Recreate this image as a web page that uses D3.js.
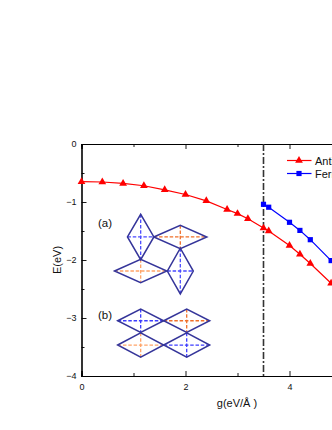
<!DOCTYPE html>
<html>
<head>
<meta charset="utf-8">
<script src="https://cdn.jsdelivr.net/npm/d3@7"></script>
<style>
  html, body { margin: 0; padding: 0; background: #fff; overflow: hidden; }
  svg { display: block; }
  text { font-family: "Liberation Sans", Arial, sans-serif; fill: #111; }
</style>
</head>
<body>
<div class="chart"></div>
<script>
// energy curves
var afmG = [0, 0.4, 0.8, 1.2, 1.6, 2, 2.4, 2.8, 3, 3.2, 3.5, 3.6, 4, 4.2, 4.4, 4.8];
var afmE = [-0.65, -0.655, -0.68, -0.72, -0.79, -0.87, -0.98, -1.13, -1.2, -1.29, -1.45, -1.5, -1.75, -1.9, -2.06, -2.4];
var fmG = [3.5, 3.6, 4, 4.2, 4.4, 4.8];
var fmE = [-1.04, -1.09, -1.35, -1.49, -1.65, -2.01];
var legendLabels = ["Antiferromagnetic", "Ferromagnetic"];
var xTicks = [0, 2, 4];
var xMinorTicks = [1, 3, 5];
var yTicks = [0, -1, -2, -3, -4];
var yMinorTicks = [-0.5, -1.5, -2.5, -3.5];
var transitionG = 3.5;

// rhombus insets, in chart units: centre, half width, half height, inner dash colour
var rhombG = [1.138, 1.9, 1.138, 1.9, 1.138, 2.023, 1.138, 2.023];
var rhombE = [-1.603, -1.603, -2.19, -2.19, -3.047, -3.047, -3.466, -3.466];
var rhombHalfG = [0.254, 0.51, 0.503, 0.25, 0.442, 0.442, 0.442, 0.442];
var rhombHalfE = [0.391, 0.202, 0.202, 0.394, 0.201, 0.201, 0.21, 0.21];
var rhombDash = ["#4a4aff", "#f0702a", "#ffa468", "#4a4aff", "#3c3cff", "#f0702a", "#ffa468", "#3c3cff"];

var svg_width = 332;
var svg_height = 430;

var svg = d3.select(".chart").append("svg")
  .attr("width", svg_width)
  .attr("height", svg_height);

var x = d3.scaleLinear().domain([0, 6]).range([81.5, 393.5]);
var y = d3.scaleLinear().domain([0, -4]).range([144, 376]);

// axes, ticks point inward
function tidy(g) {
  g.select(".domain").attr("stroke", "#000").attr("stroke-width", 1.1);
  g.selectAll(".tick line").attr("stroke", "#000").attr("stroke-width", 0.9);
  g.selectAll("text").style("font-size", "9px").style("font-family", '"Liberation Sans", Arial, sans-serif').attr("fill", "#111");
}

svg.append("g").attr("transform", "translate(0,376)")
  .call(d3.axisBottom(x).tickValues(xTicks).tickSize(-5).tickPadding(8).tickFormat(d3.format("d")))
  .call(tidy);
svg.append("g").attr("transform", "translate(0,376)")
  .call(d3.axisBottom(x).tickValues(xMinorTicks).tickSize(-3).tickFormat(""))
  .call(tidy);
svg.append("g").attr("transform", "translate(0,144)")
  .call(d3.axisTop(x).tickValues(xTicks).tickSize(-5).tickFormat(""))
  .call(tidy);
svg.append("g").attr("transform", "translate(0,144)")
  .call(d3.axisTop(x).tickValues(xMinorTicks).tickSize(-3).tickFormat(""))
  .call(tidy);
svg.append("g").attr("transform", "translate(81.5,0)")
  .call(d3.axisLeft(y).tickValues(yTicks).tickSize(-5).tickPadding(5).tickFormat(d3.format("d")))
  .call(tidy);
svg.append("g").attr("transform", "translate(81.5,0)")
  .call(d3.axisLeft(y).tickValues(yMinorTicks).tickSize(-3).tickFormat(""))
  .call(tidy);

svg.append("text").attr("x", 237).attr("y", 407)
  .attr("text-anchor", "middle").style("font-size", "11px").text("g(eV/Å )");
svg.append("text").attr("transform", "translate(61,260) rotate(-90)")
  .attr("text-anchor", "middle").style("font-size", "11px").text("E(eV)");

// vertical dash dot line
svg.append("line")
  .attr("x1", x(transitionG)).attr("x2", x(transitionG))
  .attr("y1", y(0)).attr("y2", y(-4))
  .attr("stroke", "#333").attr("stroke-width", 1.6)
  .attr("stroke-dasharray", "7,2,2,2");

// rhombus insets
var rhombi = d3.range(rhombG.length);

svg.selectAll(".dash-h").data(rhombi).enter().append("line")
  .attr("x1", function(i) { return x(rhombG[i] - rhombHalfG[i]); })
  .attr("x2", function(i) { return x(rhombG[i] + rhombHalfG[i]); })
  .attr("y1", function(i) { return y(rhombE[i]); })
  .attr("y2", function(i) { return y(rhombE[i]); })
  .attr("stroke", function(i) { return rhombDash[i]; })
  .attr("stroke-width", 1.3).attr("stroke-dasharray", "3.5,1.8");

svg.selectAll(".dash-v").data(rhombi).enter().append("line")
  .attr("x1", function(i) { return x(rhombG[i]); })
  .attr("x2", function(i) { return x(rhombG[i]); })
  .attr("y1", function(i) { return y(rhombE[i] + rhombHalfE[i]); })
  .attr("y2", function(i) { return y(rhombE[i] - rhombHalfE[i]); })
  .attr("stroke", function(i) { return rhombDash[i]; })
  .attr("stroke-width", 1.3).attr("stroke-dasharray", "3.5,1.8");

svg.selectAll(".rhomb").data(rhombi).enter().append("path")
  .attr("d", function(i) {
    return d3.line()([
      [x(rhombG[i] - rhombHalfG[i]), y(rhombE[i])],
      [x(rhombG[i]), y(rhombE[i] + rhombHalfE[i])],
      [x(rhombG[i] + rhombHalfG[i]), y(rhombE[i])],
      [x(rhombG[i]), y(rhombE[i] - rhombHalfE[i])]
    ]) + "Z";
  })
  .attr("fill", "none")
  .attr("stroke", "#35359a")
  .attr("stroke-width", 1.5);

svg.append("text").attr("x", 98).attr("y", 227).style("font-size", "11.5px").text("(a)");
svg.append("text").attr("x", 98).attr("y", 319).style("font-size", "11.5px").text("(b)");

// the two curves
function drawSeries(gs, es, color, symbol, size) {
  var pts = d3.zip(gs, es);
  svg.append("path")
    .attr("d", d3.line().x(function(d) { return x(d[0]); }).y(function(d) { return y(d[1]); })(pts))
    .attr("fill", "none")
    .attr("stroke", color)
    .attr("stroke-width", 1.2);
  svg.selectAll(null).data(pts).enter().append("path")
    .attr("d", d3.symbol().type(symbol).size(size))
    .attr("transform", function(d) { return "translate(" + x(d[0]) + "," + y(d[1]) + ")"; })
    .attr("fill", color);
}

drawSeries(afmG, afmE, "#ff0000", d3.symbolTriangle, 26);
drawSeries(fmG, fmE, "#0000ff", d3.symbolSquare, 27);

// legend
var legendColors = ["#ff0000", "#0000ff"];
var legendSymbols = [d3.symbolTriangle, d3.symbolSquare];
var legendSizes = [26, 27];
legendLabels.forEach(function(label, i) {
  var ly = 160.5 + i * 13;
  svg.append("line").attr("x1", 287).attr("x2", 311.5).attr("y1", ly).attr("y2", ly)
    .attr("stroke", legendColors[i]).attr("stroke-width", 1.2);
  svg.append("path")
    .attr("d", d3.symbol().type(legendSymbols[i]).size(legendSizes[i]))
    .attr("transform", "translate(299," + ly + ")")
    .attr("fill", legendColors[i]);
  svg.append("text").attr("x", 315).attr("y", ly + 4)
    .style("font-size", "11px").text(label);
});
</script>
</body>
</html>
